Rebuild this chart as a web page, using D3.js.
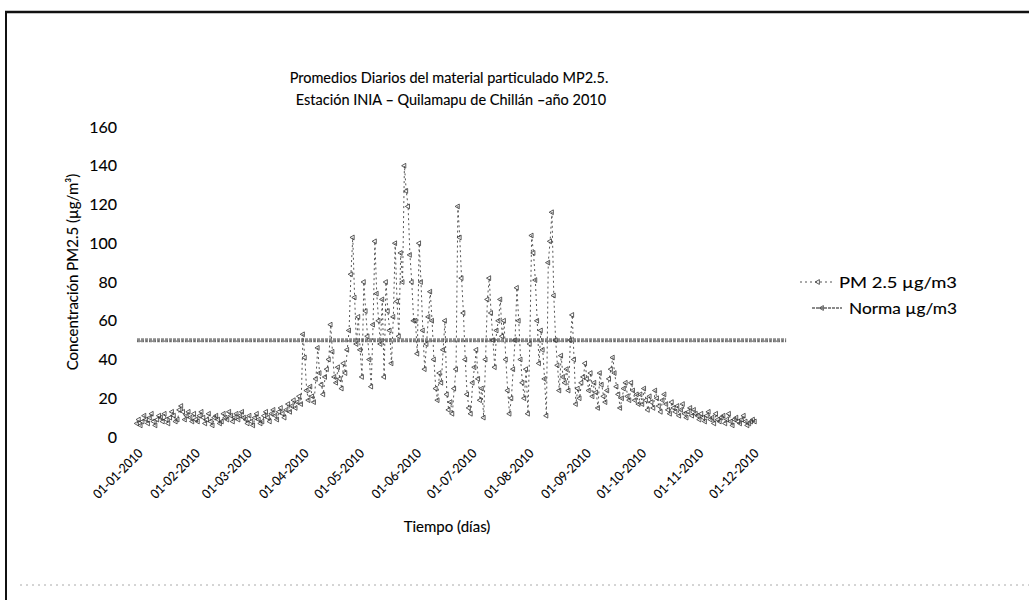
<!DOCTYPE html>
<html>
<head>
<meta charset="utf-8">
<script src="https://cdn.jsdelivr.net/npm/d3@7"></script>
<style>
body { margin: 0; background: #fff; }
text { font-family: Lato, "Open Sans", sans-serif; fill: #000; stroke: #000; stroke-width: 0.12px; }
</style>
</head>
<body>
<div id="main"></div>
<script>
// etiquetas del eje x (primer dia de cada mes)
var monthTicks = ["01-01-2010", "01-02-2010", "01-03-2010", "01-04-2010", "01-05-2010", "01-06-2010",
  "01-07-2010", "01-08-2010", "01-09-2010", "01-10-2010", "01-11-2010", "01-12-2010"];
var yTicks = [0, 20, 40, 60, 80, 100, 120, 140, 160];

// promedios diarios PM2.5, un arreglo por mes
var pmEne = [7,9,6,8,11,9,7,10,12,8,6,9,11,10,8,12,9,7,10,13,11,8,9,14,16,13,9,11,13,10,8];
var pmFeb = [12,9,8,11,13,10,7,9,12,8,6,10,11,9,7,8,12,10,9,13,11,8,10,12,9,11,13,10];
var pmMar = [9,7,11,8,6,10,12,9,7,8,11,13,10,8,12,14,11,9,13,15,12,10,14,17,13,16,19,15,18,21,17];
var pmAbr = [53,41,24,19,26,21,18,30,46,33,27,22,31,35,40,58,44,31,28,36,30,25,38,33,45,55,84,103,72,48];
var pmMay = [62,45,31,80,65,52,40,26,58,101,74,60,48,71,31,80,65,55,38,62,100,70,52,95,80,140,127,119,94,80,60];
var pmJun = [60,43,100,80,55,35,48,62,75,60,40,25,19,33,28,45,60,22,14,18,12,25,35,119,103,82,64,40,22,15];
var pmJul = [12,28,36,45,30,19,25,10,40,71,82,64,50,36,55,60,71,52,60,40,24,12,20,35,50,77,60,40,28,20,35];
var pmAgo = [12,48,104,95,81,60,38,55,45,30,11,90,101,116,73,50,37,24,42,31,28,35,24,50,63,40,17,25,20,28,31];
var pmSep = [38,30,24,33,21,28,23,15,33,27,21,18,24,30,35,41,33,26,22,15,20,25,28,21,19,28,24,19,22,17];
var pmOct = [22,17,25,19,14,21,18,15,24,20,16,13,19,22,17,14,12,18,15,13,16,11,14,17,12,10,13,15,11,14,12];
var pmNov = [11,9,12,10,8,11,13,9,10,7,12,9,8,10,11,7,9,12,8,6,9,10,8,7,9,11,8,6,7,8];
var pmDic = [9,8];

// norma diaria MP2.5
var normaValor = 50;
var normaDesde = "01-01-2010", normaHasta = "19-12-2010";

var width = 1029, height = 600;
var parse = d3.timeParse("%d-%m-%Y");
var fmt = d3.timeFormat("%d-%m-%Y");

var svg = d3.select("#main").append("svg")
  .attr("width", width)
  .attr("height", height);

// marco escaneado
svg.append("line").attr("x1", 5).attr("x2", width).attr("y1", 12).attr("y2", 12)
  .attr("stroke", "#111").attr("stroke-width", 2.5);
svg.append("line").attr("x1", 6).attr("x2", 6).attr("y1", 12).attr("y2", height)
  .attr("stroke", "#111").attr("stroke-width", 2);
svg.append("line").attr("x1", 20).attr("x2", width).attr("y1", 585).attr("y2", 585)
  .attr("stroke", "#aaa").attr("stroke-width", 1).attr("stroke-dasharray", "2,4");

var x = d3.scaleTime()
  .domain([parse("01-01-2010"), parse("20-12-2010")])
  .range([137, 788]);
var y = d3.scaleLinear()
  .domain([0, 160])
  .range([437, 127]);

var months = [pmEne, pmFeb, pmMar, pmAbr, pmMay, pmJun, pmJul, pmAgo, pmSep, pmOct, pmNov, pmDic];
var pm = [];
months.forEach(function (vals, m) {
  vals.forEach(function (v, i) {
    pm.push({ date: new Date(2010, m, i + 1), v: v });
  });
});

// eje y
var yAxis = svg.append("g")
  .attr("transform", "translate(121,0)")
  .call(d3.axisLeft(y).tickValues(yTicks).tickSize(0).tickPadding(4));
yAxis.select(".domain").remove();
yAxis.selectAll("text").style("font-size", "16px").style("font-family", "Lato, sans-serif");

// eje x
var xAxis = svg.append("g")
  .attr("transform", "translate(0,437)")
  .call(d3.axisBottom(x).tickValues(monthTicks.map(parse)).tickFormat(fmt).tickSize(0));
xAxis.select(".domain").remove();
xAxis.selectAll("text")
  .style("font-size", "13px").style("font-family", "Lato, sans-serif")
  .attr("text-anchor", "end")
  .attr("textLength", 64).attr("lengthAdjust", "spacingAndGlyphs")
  .attr("x", 0).attr("y", 0).attr("dy", "0.35em")
  .attr("transform", "translate(3,14) rotate(-45)");

// norma
svg.append("line")
  .attr("x1", x(parse(normaDesde))).attr("x2", x(parse(normaHasta)))
  .attr("y1", y(normaValor)).attr("y2", y(normaValor))
  .attr("stroke", "#8a8a8a").attr("stroke-width", 4)
  .attr("stroke-dasharray", "3,1");
svg.append("line")
  .attr("x1", x(parse(normaDesde))).attr("x2", x(parse(normaHasta)))
  .attr("y1", y(normaValor) + 1).attr("y2", y(normaValor) + 1)
  .attr("stroke", "#555").attr("stroke-width", 1)
  .attr("stroke-dasharray", "1,2");

// serie PM2.5
var line = d3.line()
  .x(function (d) { return x(d.date); })
  .y(function (d) { return y(d.v); });

svg.append("path")
  .datum(pm)
  .attr("d", line)
  .attr("fill", "none")
  .attr("stroke", "#555")
  .attr("stroke-width", 1)
  .attr("stroke-dasharray", "2,3");

var marker = d3.symbol().type(d3.symbolTriangle).size(10);
svg.append("g").selectAll("path")
  .data(pm)
  .enter().append("path")
  .attr("d", marker)
  .attr("transform", function (d) { return "translate(" + x(d.date) + "," + y(d.v) + ") rotate(-90)"; })
  .attr("fill", "none")
  .attr("stroke", "#333")
  .attr("stroke-width", 0.8);

// titulos
svg.append("text").attr("x", 449).attr("y", 83).attr("text-anchor", "middle")
  .style("font-size", "14.5px")
  .text("Promedios  Diarios del material particulado MP2.5.");
svg.append("text").attr("x", 451).attr("y", 105).attr("text-anchor", "middle")
  .style("font-size", "14.5px")
  .text("Estación INIA – Quilamapu de Chillán –año 2010");
svg.append("text").attr("transform", "translate(78,272) rotate(-90)").attr("text-anchor", "middle")
  .style("font-size", "15px").text("Concentración PM2.5 (µg/m³)");
svg.append("text").attr("x", 447).attr("y", 532).attr("text-anchor", "middle")
  .style("font-size", "15px").text("Tiempo (días)");

// leyenda
var legend = svg.append("g");
legend.append("line").attr("x1", 800).attr("x2", 834).attr("y1", 282).attr("y2", 282)
  .attr("stroke", "#555").attr("stroke-dasharray", "2,3");
legend.append("path").attr("d", marker).attr("transform", "translate(818,282) rotate(-90)")
  .attr("fill", "none").attr("stroke", "#333").attr("stroke-width", 0.8);
legend.append("text").attr("x", 957).attr("y", 288).attr("text-anchor", "end")
  .style("font-size", "16px").attr("textLength", 118).attr("lengthAdjust", "spacingAndGlyphs")
  .text("PM 2.5 µg/m3");
legend.append("line").attr("x1", 812).attr("x2", 842).attr("y1", 308).attr("y2", 308)
  .attr("stroke", "#8a8a8a").attr("stroke-width", 2).attr("stroke-dasharray", "3,1");
legend.append("path").attr("d", marker).attr("transform", "translate(822,308) rotate(-90)")
  .attr("fill", "none").attr("stroke", "#333").attr("stroke-width", 0.8);
legend.append("text").attr("x", 957).attr("y", 314).attr("text-anchor", "end")
  .style("font-size", "16px").attr("textLength", 108).attr("lengthAdjust", "spacingAndGlyphs")
  .text("Norma µg/m3");
</script>
</body>
</html>
